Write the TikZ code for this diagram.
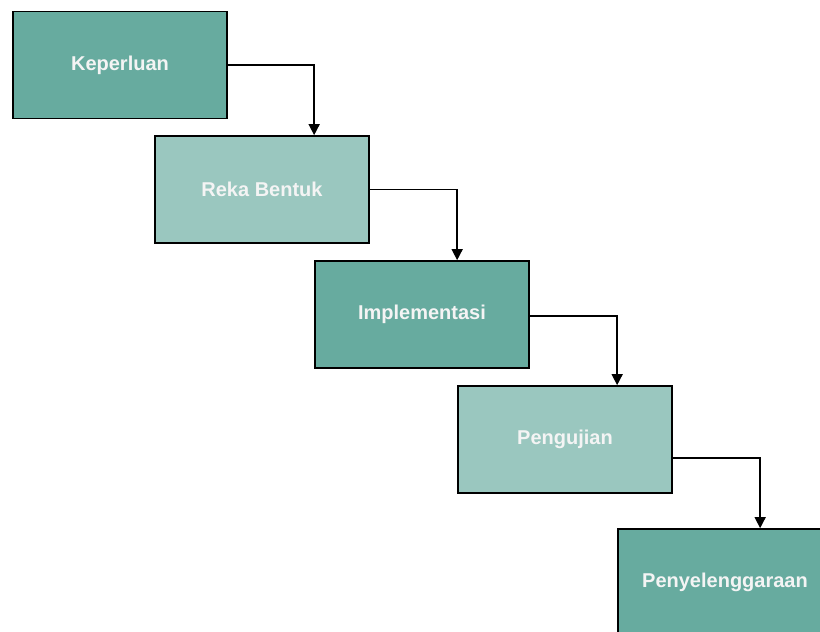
\documentclass[tikz,border=0pt]{standalone}
\usepackage{fontspec}
\setmainfont{Liberation Sans}
\usetikzlibrary{arrows.meta}
\definecolor{tealdark}{HTML}{67AB9F}
\definecolor{teallight}{HTML}{9AC7BF}
\definecolor{boxtext}{HTML}{F4F4F4}
\tikzset{
  stagebox/.style={draw=black, line width=1.7pt, minimum width=214pt, minimum height=107pt,
    inner sep=0pt, text=boxtext, font=\bfseries\fontsize{20pt}{24pt}\selectfont},
  darkbox/.style={stagebox, fill=tealdark},
  lightbox/.style={stagebox, fill=teallight},
  arr/.style={draw=black, line width=1.5pt, -{Triangle[length=11pt,width=11pt]}}
}
\begin{document}
\begin{tikzpicture}[x=1pt,y=-1pt]
\useasboundingbox (0,0) rectangle (820,632);
\clip (0,0) rectangle (820,632);
\node[darkbox]  (k)  at (120,65)    {Keperluan};
\node[lightbox] (r)  at (262,189.5) {Reka Bentuk};
\node[darkbox]  (i)  at (422,314.5) {Implementasi};
\node[lightbox] (p)  at (565,439.5) {Pengujian};
\node[darkbox]  (s)  at (725,582.5) {Penyelenggaraan};
\draw[arr] (k.east) -| ([xshift=160pt]r.north west);
\draw[arr] (r.east) -| ([xshift=143pt]i.north west);
\draw[arr] ([yshift=-1.5pt]i.east) -| ([xshift=160pt]p.north west);
\draw[arr] ([yshift=-18.5pt]p.east) -| ([xshift=143pt]s.north west);
\end{tikzpicture}
\end{document}
